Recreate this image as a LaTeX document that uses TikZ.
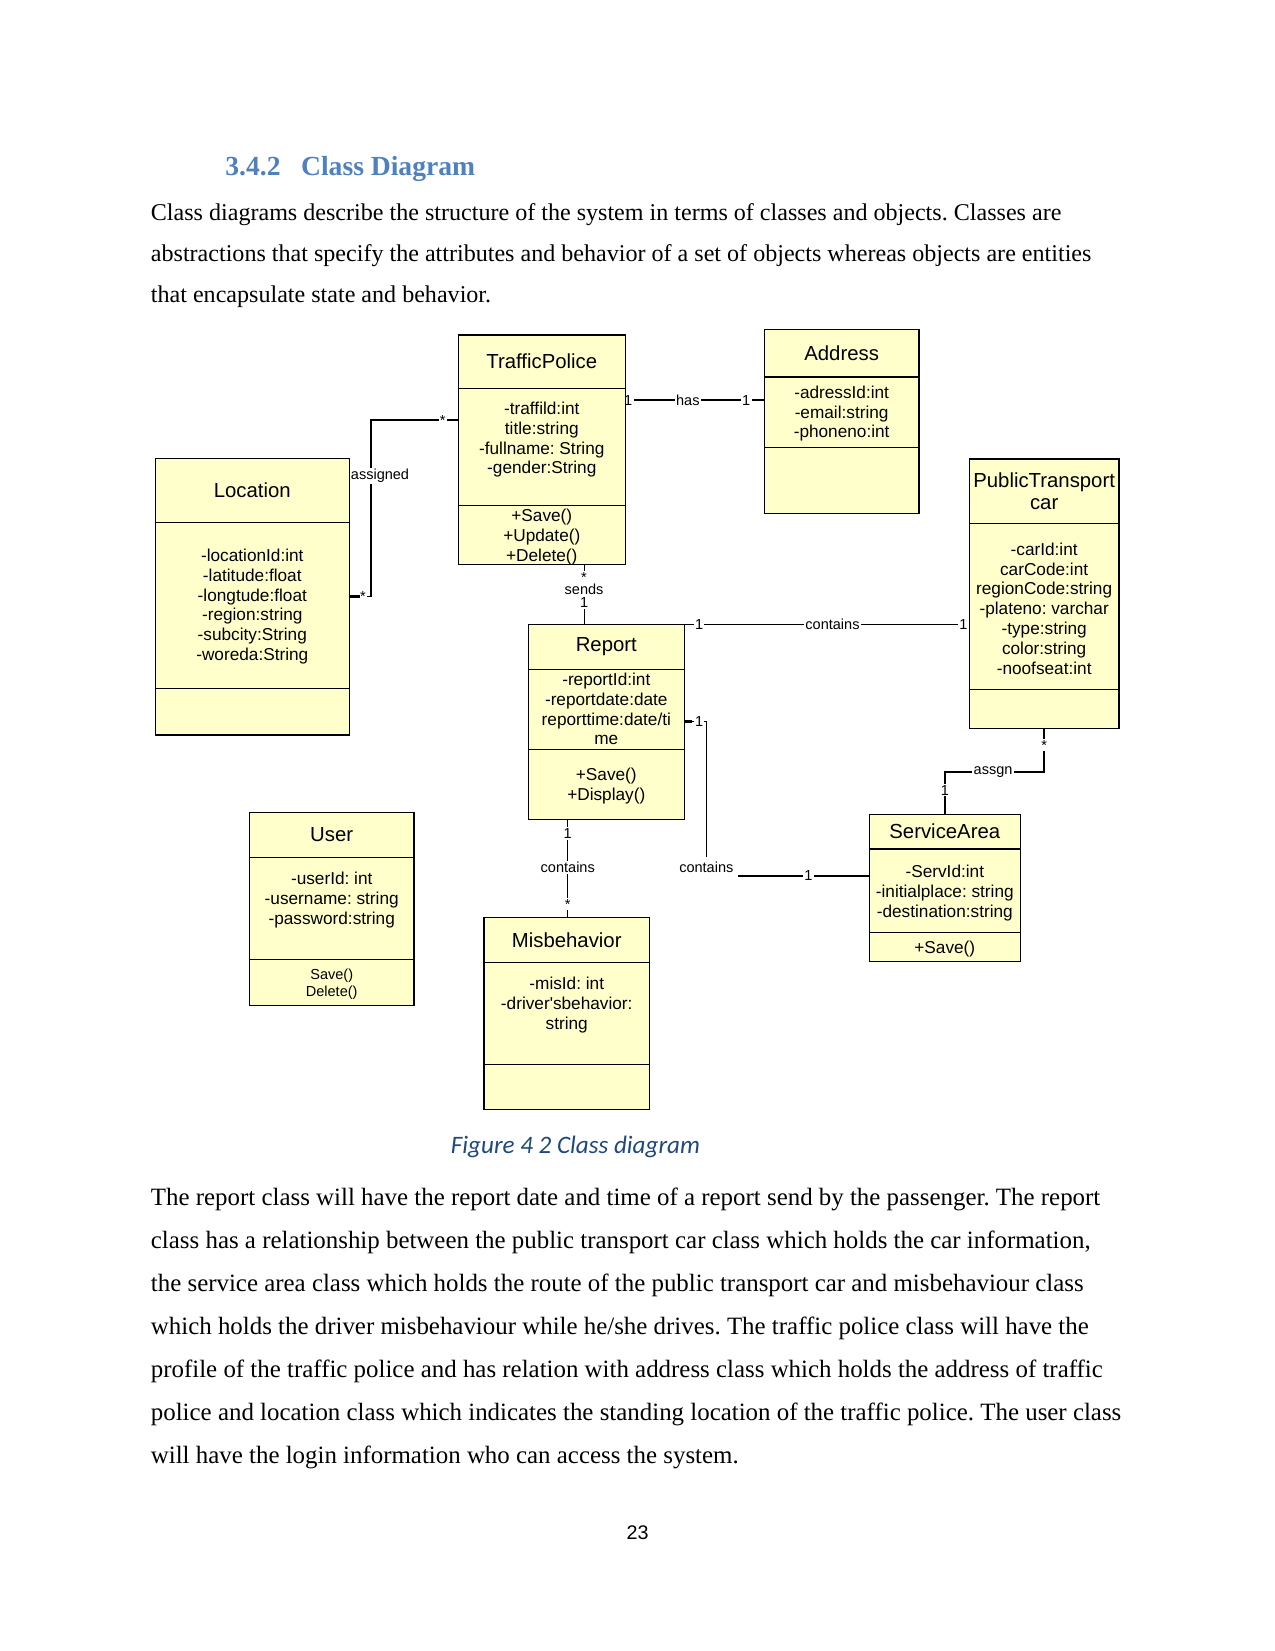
\documentclass[tikz,border=0pt]{standalone}
\usepackage{fontspec}
\setmainfont{Liberation Serif}
\setsansfont{Liberation Sans}
\newfontfamily\captionfont{Carlito}
\usetikzlibrary{positioning,calc,backgrounds}
\definecolor{umlyellow}{HTML}{FFFFCC}
\definecolor{headingblue}{HTML}{4F81BD}
\definecolor{captionblue}{HTML}{1F497D}
\newdimen\unitpx
\unitpx=0.016933cm
\frenchspacing

\begin{document}
\begin{tikzpicture}[
  x=0.016933cm, y=-0.016933cm,
  classhead/.style={draw, fill=umlyellow, line width=0.5pt, outer sep=0pt,
    inner sep=0pt, align=center, font=\sffamily\fontsize{9.8}{10.9}\selectfont},
  classpart/.style={draw, fill=umlyellow, line width=0.5pt, outer sep=0pt, inner sep=0pt},
  members/.style={anchor=north, inner sep=0pt, align=center,
    font=\sffamily\fontsize{8.3}{9.6}\selectfont},
  assoc/.style={line width=0.5pt},
  mult/.style={fill=white, inner sep=0.6pt, font=\sffamily\fontsize{7}{8}\selectfont},
  stub/.style={line width=1.3pt},
  bodyline/.style={anchor=base west, inner sep=0pt, font=\fontsize{12}{14}\selectfont}]

\useasboundingbox (0,0) rectangle (1275,1651);

% page text
\node[anchor=base west, inner sep=0pt, text=headingblue,
      font=\bfseries\fontsize{13.3}{16}\selectfont] (secnum) at (225,175) {3.4.2};
\node[anchor=base west, inner sep=0pt, text=headingblue,
      font=\bfseries\fontsize{13.3}{16}\selectfont] (sectitle) at (300.7,175) {Class Diagram};
\foreach \txt [count=\i] in {
  {Class diagrams describe the structure of the system in terms of classes and objects. Classes are},
  {abstractions that specify the attributes and behavior of a set of objects whereas objects are entities},
  {that encapsulate state and behavior.}}
  \node[bodyline, font=\fontsize{11.6}{14}\selectfont] (intro\i) at (150.5,179.5+41*\i) {\txt};

% classes
\node[classhead, minimum width=167*\unitpx, minimum height=53.3*\unitpx, anchor=north west]
  (tpHead) at (458.3,335) {TrafficPolice};
\node[classpart, minimum width=167*\unitpx, minimum height=117*\unitpx, below=0pt of tpHead] (tpAttr) {};
\node[classpart, minimum width=167*\unitpx, minimum height=59*\unitpx, below=0pt of tpAttr] (tpMeth) {};
\node[members] (tpAttrText) at ([yshift=-13*\unitpx]tpAttr.north)
  {-traffild:int\\title:string\\-fullname: String\\-gender:String};
\node[members] (tpMethText) at ([yshift=-3*\unitpx]tpMeth.north) {+Save()\\+Update()\\+Delete()};

\node[classhead, minimum width=154.7*\unitpx, minimum height=47.5*\unitpx, anchor=north west]
  (addrHead) at (764.3,329.5) {Address};
\node[classpart, minimum width=154.7*\unitpx, minimum height=70.4*\unitpx, below=0pt of addrHead] (addrAttr) {};
\node[classpart, minimum width=154.7*\unitpx, minimum height=66.4*\unitpx, below=0pt of addrAttr] (addrMeth) {};
\node[members] (addrAttrText) at ([yshift=-8.2*\unitpx]addrAttr.north)
  {-adressId:int\\-email:string\\-phoneno:int};

\node[classhead, minimum width=194*\unitpx, minimum height=64*\unitpx, anchor=north west]
  (locHead) at (155.3,458.3) {Location};
\node[classpart, minimum width=194*\unitpx, minimum height=166*\unitpx, below=0pt of locHead] (locAttr) {};
\node[classpart, minimum width=194*\unitpx, minimum height=46.7*\unitpx, below=0pt of locAttr] (locMeth) {};
\node[members] (locAttrText) at ([yshift=-26*\unitpx]locAttr.north)
  {-locationId:int\\-latitude:float\\-longtude:float\\-region:string\\-subcity:String\\-woreda:String};

\node[classhead, minimum width=149.7*\unitpx, minimum height=64.2*\unitpx, anchor=north west]
  (ptcHead) at (969.3,459) {PublicTransport\\car};
\node[classpart, minimum width=149.7*\unitpx, minimum height=166.4*\unitpx, below=0pt of ptcHead] (ptcAttr) {};
\node[classpart, minimum width=149.7*\unitpx, minimum height=38.9*\unitpx, below=0pt of ptcAttr] (ptcMeth) {};
\node[members] (ptcAttrText) at ([yshift=-19*\unitpx]ptcAttr.north)
  {-carId:int\\carCode:int\\regionCode:string\\-plateno: varchar\\-type:string\\color:string\\-noofseat:int};

\node[classhead, minimum width=156*\unitpx, minimum height=45*\unitpx, anchor=north west]
  (repHead) at (528.3,624.3) {Report};
\node[classpart, minimum width=156*\unitpx, minimum height=80*\unitpx, below=0pt of repHead] (repAttr) {};
\node[classpart, minimum width=156*\unitpx, minimum height=70*\unitpx, below=0pt of repAttr] (repMeth) {};
\node[members] (repAttrText) at ([yshift=-3*\unitpx]repAttr.north)
  {-reportId:int\\-reportdate:date\\reporttime:date/ti\\me};
\node[members] (repMethText) at ([yshift=-18*\unitpx]repMeth.north) {+Save()\\+Display()};

\node[classhead, minimum width=164.6*\unitpx, minimum height=45.1*\unitpx, anchor=north west]
  (usrHead) at (249.4,812.4) {User};
\node[classpart, minimum width=164.6*\unitpx, minimum height=101.7*\unitpx, below=0pt of usrHead] (usrAttr) {};
\node[classpart, minimum width=164.6*\unitpx, minimum height=46.2*\unitpx, below=0pt of usrAttr] (usrMeth) {};
\node[members] (usrAttrText) at ([yshift=-13.8*\unitpx]usrAttr.north)
  {-userId: int\\-username: string\\-password:string};
\node[members, font=\sffamily\fontsize{7}{8.2}\selectfont] (usrMethText)
  at ([yshift=-9.1*\unitpx]usrMeth.north) {Save()\\Delete()};

\node[classhead, minimum width=165.5*\unitpx, minimum height=44.7*\unitpx, anchor=north west]
  (misHead) at (484,917.6) {Misbehavior};
\node[classpart, minimum width=165.5*\unitpx, minimum height=102*\unitpx, below=0pt of misHead] (misAttr) {};
\node[classpart, minimum width=165.5*\unitpx, minimum height=45.5*\unitpx, below=0pt of misAttr] (misMeth) {};
\node[members] (misAttrText) at ([yshift=-14*\unitpx]misAttr.north)
  {-misId: int\\-driver\textquotesingle sbehavior:\\string};

\node[classhead, minimum width=151*\unitpx, minimum height=34.7*\unitpx, anchor=north west]
  (saHead) at (869.3,814.3) {ServiceArea};
\node[classpart, minimum width=151*\unitpx, minimum height=83.3*\unitpx, below=0pt of saHead] (saAttr) {};
\node[classpart, minimum width=151*\unitpx, minimum height=28.9*\unitpx, below=0pt of saAttr] (saMeth) {};
\node[members] (saAttrText) at ([yshift=-15.7*\unitpx]saAttr.north)
  {-ServId:int\\-initialplace: string\\-destination:string};
\node[members] (saMethText) at ([yshift=-8*\unitpx]saMeth.north) {+Save()};

% caption, second paragraph, page number
\node[anchor=base west, inner sep=0pt, text=captionblue,
      font=\captionfont\itshape\fontsize{12.1}{14}\selectfont] (figcap) at (450.5,1153.3)
  {Figure 4 2 Class diagram};
\foreach \txt [count=\i] in {
  {The report class will have the report date and time of a report send by the passenger. The report},
  {class has a relationship between the public transport car class which holds the car information,},
  {the service area class which holds the route of the public transport car and misbehaviour class},
  {which holds the driver misbehaviour while he/she drives. The traffic police class will have the},
  {profile of the traffic police and has relation with address class which holds the address of traffic},
  {police and location class which indicates the standing location of the traffic police. The user class},
  {will have the login information who can access the system.}}
  \node[bodyline] (expl\i) at (150.5,1162+43*\i) {\txt};
\node[anchor=base, inner sep=0pt, font=\sffamily\fontsize{9.5}{11}\selectfont] (pageno)
  at (637.5,1539.3) {23};

% associations
\begin{pgfonlayer}{background}
\fill[white] (0,0) rectangle (1275,1651);
\coordinate (tpAssign) at ($(tpAttr.north west)!0.271!(tpAttr.south west)$);
\coordinate (locAssign) at ($(locAttr.north east)!0.448!(locAttr.south east)$);
\draw[assoc] (tpAssign) -- node[mult, pos=0.179] (mAssignTp) {*} ++(-87.3,0)
  |- node[mult, pos=0.158, xshift=9*\unitpx] (lAssigned) {assigned}
     node[mult, pos=0.685] (mAssignLoc) {*} (locAssign);
\draw[stub] (locAssign) -- ++(11,0);

\coordinate (tpHas) at ($(tpAttr.north east)!0.1!(tpAttr.south east)$);
\draw[assoc, line width=0.75pt] (tpHas) -- node[mult, pos=0.021] (mHasTp) {1}
  node[mult, pos=0.45] (lHas) {has} node[mult, pos=0.87] (mHasAddr) {1} (tpHas -| addrAttr.west);
\draw[stub] (tpHas -| addrAttr.west) -- ++(-12,0);

\coordinate (tpSends) at ($(tpMeth.south west)!0.753!(tpMeth.south east)$);
\draw[assoc] (tpSends) -- node[mult, pos=0.212] (mSendsTp) {*} node[mult, pos=0.42] (lSends) {sends}
  node[mult, pos=0.637] (mSendsRep) {1} (tpSends |- repHead.north);

\draw[assoc] (repHead.north east) -- node[mult, pos=0.052] (mRepCar) {1}
  node[mult, pos=0.52] (lRepCar) {contains} node[mult, pos=0.979] (mCarRep) {1}
  (repHead.north east -| ptcAttr.west);

\coordinate (repArea) at ($(repAttr.north east)!0.655!(repAttr.south east)$);
\coordinate (areaRep) at ($(saAttr.north west)!0.324!(saAttr.south west)$);
\draw[assoc] (repArea) -- node[mult, pos=0.67] (mRepArea) {1} ++(22,0)
  |- node[mult, pos=0.5, anchor=base, yshift=4*\unitpx, inner sep=2.2pt] (lRepArea) {contains}
     node[mult, pos=0.813] (mAreaRep) {1} (areaRep);
\draw[stub] (repArea) -- ++(8,0);

\coordinate (repMis) at ($(repMeth.south west)!0.253!(repMeth.south east)$);
\draw[assoc] (repMis) -- node[mult, pos=0.142] (mRepMis) {1} node[mult, pos=0.488] (lRepMis) {contains}
  node[mult, pos=0.862] (mMisRep) {*} (repMis |- misHead.north);

\draw[assoc, line width=1.1pt] (ptcMeth.south) |- node[mult, pos=0.191] (mAssgnCar) {*}
  node[mult, pos=0.757] (lAssgn) {assgn} ($(saHead.north)+(0,-42.6)$)
  -- node[mult, pos=0.43] (mAssgnArea) {1} (saHead.north);
\end{pgfonlayer}
\end{tikzpicture}
\end{document}
